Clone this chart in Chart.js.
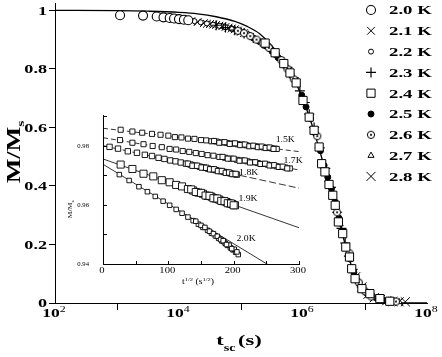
<!DOCTYPE html>
<html lang="en">
<head>
    <meta charset="UTF-8">
    <title>M/Ms relaxation</title>
    <script src="https://cdn.jsdelivr.net/npm/chart.js"></script>
    <style>
        body { margin: 0; background: #fff; }
        .wrap { position: relative; width: 442px; height: 357px; }
        #mainChart { position: absolute; left: 0; top: 0; }
        #insetChart { position: absolute; left: 60px; top: 100px; }
    </style>
</head>
<body>
<div class="wrap">
    <canvas id="mainChart" width="442" height="357"></canvas>
    <canvas id="insetChart" width="255" height="195"></canvas>
</div>
<script>
// ---- main plot data: t_sc (s) and M/Ms for each temperature ----
const temps = ['2.0 K', '2.1 K', '2.2 K', '2.3 K', '2.4 K', '2.5 K', '2.6 K', '2.7 K', '2.8 K'];

const t20 = [1.12e3, 2.63e3, 4.37e3, 5.62e3, 7.08e3, 8.32e3, 1.0e4, 1.2e4, 1.41e4];
const m20 = [0.983, 0.982, 0.979, 0.976, 0.974, 0.972, 0.970, 0.968, 0.966];

const t21 = [1.0e4, 1.26e4, 1.58e4, 2.0e4, 2.51e4, 2.82e4, 3.16e4, 3.55e4, 3.98e4, 4.47e4, 5.01e4, 5.62e4,
             6.31e4, 7.08e4, 7.94e4, 8.91e4, 1.0e5, 1.12e5];
const m21 = [0.969, 0.966, 0.963, 0.960, 0.956, 0.954, 0.953, 0.951, 0.950, 0.947, 0.946, 0.943,
             0.941, 0.938, 0.935, 0.931, 0.927, 0.922];

const t22 = [7.08e3, 8.91e3, 1.12e4, 1.41e4, 1.78e4, 2.24e4, 2.82e4, 3.55e4, 4.47e4, 5.62e4, 7.08e4, 8.91e4, 1.12e5, 1.41e5];
const m22 = [0.974, 0.972, 0.969, 0.966, 0.963, 0.959, 0.955, 0.951, 0.947, 0.942, 0.936, 0.930, 0.922, 0.913];

const t23 = [3.98e4, 5.62e4, 7.94e4, 1.12e5, 1.58e5, 2.24e5, 3.16e5, 4.17e5, 5.62e5, 7.08e5, 8.91e5, 1.07e6,
             1.26e6, 1.51e6, 1.86e6, 2.29e6, 2.82e6, 3.55e6, 4.17e6, 4.79e6, 5.5e6, 6.31e6, 7.41e6];
const m23 = [0.949, 0.941, 0.932, 0.921, 0.905, 0.887, 0.862, 0.838, 0.805, 0.77, 0.725, 0.685,
             0.645, 0.6, 0.53, 0.46, 0.395, 0.31, 0.255, 0.205, 0.16, 0.115, 0.075];

const t24 = [2.45e5, 3.55e5, 4.9e5, 6.17e5, 7.76e5, 1.0e6, 1.26e6, 1.51e6, 1.82e6, 2.0e6, 2.26e6, 2.63e6,
             3.02e6, 3.31e6, 3.72e6, 4.37e6, 4.9e6, 5.62e6, 6.1e6, 6.92e6, 8.91e6, 1.2e7, 1.74e7, 2.51e7];
const m24 = [0.888, 0.855, 0.818, 0.786, 0.752, 0.692, 0.635, 0.59, 0.533, 0.476, 0.448, 0.405,
             0.368, 0.334, 0.277, 0.237, 0.191, 0.157, 0.117, 0.083, 0.049, 0.032, 0.015, 0.006];

const t25 = [1.58e5, 2.0e5, 2.51e5, 3.16e5, 3.98e5, 5.01e5, 6.31e5, 7.94e5, 9.55e5, 1.12e6, 1.32e6, 1.58e6,
             1.91e6, 2.19e6, 2.51e6, 2.88e6, 3.31e6, 3.8e6, 4.37e6, 5.01e6, 5.75e6, 6.61e6, 7.59e6, 8.91e6,
             1.05e7, 1.26e7, 1.58e7, 2.0e7, 2.82e7];
const m25 = [0.905, 0.893, 0.878, 0.86, 0.838, 0.812, 0.79, 0.75, 0.71, 0.67, 0.63, 0.58,
             0.52, 0.47, 0.43, 0.39, 0.345, 0.29, 0.245, 0.195, 0.15, 0.105, 0.075, 0.05,
             0.035, 0.025, 0.015, 0.008, 0.005];

const t26 = [8.91e4, 1.12e5, 1.41e5, 1.78e5, 2.24e5, 2.82e5, 3.55e5, 4.47e5, 5.62e5, 7.08e5, 1.7e6, 3.55e6,
             5.62e6, 7.94e6, 1.0e7, 1.26e7, 1.78e7, 2.51e7, 3.16e7];
const m26 = [0.93, 0.922, 0.912, 0.9, 0.888, 0.872, 0.852, 0.83, 0.80, 0.765, 0.57, 0.31,
             0.17, 0.07, 0.04, 0.022, 0.012, 0.006, 0.005];

const t27 = [5.01e4, 5.62e4, 7.08e4, 7.94e4, 1.0e5, 1.12e5, 1.32e5, 1.58e5, 2.51e6, 3.98e6, 6.31e6, 8.32e6,
             1.12e7, 1.41e7, 2.0e7, 2.82e7, 3.55e7];
const m27 = [0.946, 0.942, 0.938, 0.933, 0.928, 0.923, 0.918, 0.906, 0.42, 0.27, 0.11, 0.06,
             0.03, 0.02, 0.01, 0.006, 0.004];

const t28 = [7.08e6, 8.91e6, 1.12e7, 1.41e7, 1.78e7, 2.24e7, 2.82e7, 3.55e7, 4.47e7];
const m28 = [0.09, 0.055, 0.03, 0.018, 0.012, 0.008, 0.005, 0.004, 0.004];

// fitted master curve
const fitT = [1e2, 1e3, 3.16e3, 1e4, 2e4, 3.98e4, 7.94e4, 1.26e5, 2e5, 3.16e5, 5.01e5, 7.94e5, 1e6, 1.26e6,
              1.58e6, 2e6, 2.51e6, 3.16e6, 3.98e6, 5.01e6, 6.31e6, 7.94e6, 1e7, 1.26e7, 1.58e7, 2.51e7, 3.98e7, 1e8];
const fitM = [1.0, 0.999, 0.997, 0.993, 0.988, 0.978, 0.962, 0.945, 0.92, 0.878, 0.82, 0.745, 0.695, 0.637,
              0.572, 0.497, 0.42, 0.345, 0.265, 0.185, 0.115, 0.065, 0.033, 0.016, 0.008, 0.002, 0.0, 0.0];

const xMinorTicks = [1e3, 1e5, 1e7];
const xMajorTicks = [1e2, 1e4, 1e6, 1e8];
const xMajorExp = ['2', '4', '6', '8'];
const yTicks = [0, 0.2, 0.4, 0.6, 0.8, 1];
const yTickLabels = ['0', '0.2', '0.4', '0.6', '0.8', '1'];

// ---- inset data: t^1/2 (s^1/2) vs M/Ms ----
const insetTemps = ['1.5K', '1.7K', '1.8K', '1.9K', '2.0K'];

const s15 = [27, 45, 60, 75, 88, 100, 110, 120, 130, 140, 150, 158, 166, 174, 182, 190, 198, 206, 213, 220, 227, 234, 240, 246, 252, 258, 263, 266,
             170, 178, 186, 194, 202, 210, 217, 224, 230, 237, 243, 249, 255, 261];
const v15 = [0.9855, 0.9849, 0.9845, 0.9841, 0.9838, 0.9835, 0.9830, 0.9829, 0.9825, 0.9824, 0.9820, 0.9819, 0.9816, 0.9815,
             0.9812, 0.9810, 0.9808, 0.9806, 0.9805, 0.9802, 0.9800, 0.9799, 0.9797, 0.9795, 0.9794, 0.9792, 0.9791, 0.9790,
             0.9817, 0.9811, 0.9813, 0.9807, 0.9809, 0.9803, 0.9805, 0.9799, 0.9801, 0.9796, 0.9798, 0.9793, 0.9795, 0.9790];

const s17 = [26, 45, 62, 76, 90, 102, 112, 122, 132, 142, 151, 160, 169, 178, 187, 196, 205, 213, 221, 229, 237, 245, 252, 259, 266, 272, 279, 286,
             183, 191, 200, 209, 217, 225, 233, 241, 248, 255, 262, 269, 275, 282];
const v17 = [0.9820, 0.9811, 0.9806, 0.9800, 0.9796, 0.9790, 0.9788, 0.9783, 0.9780, 0.9776, 0.9773, 0.9769, 0.9767, 0.9763,
             0.9760, 0.9757, 0.9753, 0.9751, 0.9748, 0.9745, 0.9742, 0.9739, 0.9737, 0.9734, 0.9731, 0.9729, 0.9727, 0.9724,
             0.9763, 0.9757, 0.9757, 0.9750, 0.9751, 0.9744, 0.9745, 0.9739, 0.9740, 0.9734, 0.9735, 0.9729, 0.9730, 0.9724];

const s18 = [10, 23, 38, 52, 64, 75, 85, 94, 103, 111, 119, 127, 134, 141, 148, 155, 161, 167, 173, 179, 185, 190, 195, 200, 205,
             130, 137, 144, 151, 158, 164, 170, 176, 182, 188, 193, 198, 203];
const v18 = [0.9797, 0.9791, 0.9782, 0.9777, 0.9770, 0.9766, 0.9760, 0.9756, 0.9751, 0.9748, 0.9744, 0.9740, 0.9737,
             0.9733, 0.9730, 0.9727, 0.9723, 0.9721, 0.9718, 0.9715, 0.9712, 0.9710, 0.9707, 0.9705, 0.9703,
             0.9740, 0.9733, 0.9733, 0.9727, 0.9726, 0.9721, 0.9721, 0.9715, 0.9715, 0.9709, 0.9710, 0.9705, 0.9705];

const s19 = [27, 45, 62, 77, 90, 102, 112, 121, 130, 138, 146, 153, 160, 166, 172, 178, 184, 189, 194, 198, 202,
             135, 142, 150, 157, 163, 169, 175, 181, 186, 191, 196, 200];
const v19 = [0.9737, 0.9722, 0.9706, 0.9697, 0.9684, 0.9677, 0.9668, 0.9663, 0.9654, 0.9649, 0.9642, 0.9638, 0.9631,
             0.9628, 0.9622, 0.9618, 0.9613, 0.9610, 0.9605, 0.9603, 0.9599,
             0.9653, 0.9644, 0.9641, 0.9632, 0.9631, 0.9623, 0.9622, 0.9614, 0.9613, 0.9606, 0.9605, 0.9599];

const s20 = [25, 40, 55, 68, 80, 92, 102, 112, 121, 130, 138, 146, 153, 160, 166, 172, 177, 182, 187, 191, 195, 199, 203, 207,
             185, 193, 201, 205, 142, 150, 156, 163, 169, 175, 180, 184, 189, 197];
const v20 = [0.9703, 0.9683, 0.9662, 0.9645, 0.9629, 0.9613, 0.9599, 0.9585, 0.9572, 0.9559, 0.9547, 0.9535, 0.9524, 0.9514,
             0.9504, 0.9495, 0.9487, 0.9478, 0.9470, 0.9463, 0.9455, 0.9448, 0.9440, 0.9432,
             0.9476, 0.9464, 0.9450, 0.9441, 0.9545, 0.9531, 0.9524, 0.9511, 0.9503, 0.9494, 0.9483, 0.9479, 0.9466, 0.9452];

// linear fits (value at t^1/2 = 0 and 300)
const insetFitX = [0, 300];
const fit15 = [0.9860, 0.9781];
const fit17 = [0.9828, 0.9719];
const fit18 = [0.9801, 0.9657];
const fit19 = [0.9756, 0.9523];
const fit20 = [0.9738, 0.9334];

const insetXTicks = [0, 50, 100, 150, 200, 250, 300];
const insetXLabels = [0, 100, 200, 300];
const insetYTicks = [0.94, 0.95, 0.96, 0.97, 0.98, 0.99];
const insetYLabels = [0.94, 0.96, 0.98];

// ---- helpers ----
const SERIF = '"Liberation Serif", "DejaVu Serif", serif';
function font(size, bold) { return (bold ? 'bold ' : '') + size + 'px ' + SERIF; }

function pts(xs, ys) { return xs.map((x, i) => ({ x: x, y: ys[i] })); }

// draws a run of text pieces, stretched horizontally by sx (the figure uses a wide face)
function rich(ctx, parts, x, y, opt) {
    opt = opt || {};
    ctx.save();
    ctx.translate(x, y);
    if (opt.rot) ctx.rotate(opt.rot);
    ctx.scale(opt.sx || 1, 1);
    ctx.fillStyle = '#000';
    ctx.textBaseline = 'alphabetic';
    ctx.textAlign = 'left';
    let w = 0;
    parts.forEach(p => { ctx.font = p.f; p.w = ctx.measureText(p.t).width; w += p.w + (p.kern || 0); });
    let cx = opt.align === 'center' ? -w / 2 : opt.align === 'right' ? -w : 0;
    parts.forEach(p => { ctx.font = p.f; ctx.fillText(p.t, cx, p.dy || 0); cx += p.w + (p.kern || 0); });
    ctx.restore();
}

// open circle with a dot in the middle (2.6 K)
const dotCircle = document.createElement('canvas');
dotCircle.width = 10; dotCircle.height = 10;
(function () {
    const c = dotCircle.getContext('2d');
    c.fillStyle = '#fff'; c.strokeStyle = '#000'; c.lineWidth = 1;
    c.beginPath(); c.arc(5, 5, 3.6, 0, Math.PI * 2); c.fill(); c.stroke();
    c.fillStyle = '#000';
    c.beginPath(); c.arc(5, 5, 1.1, 0, Math.PI * 2); c.fill();
})();

const mainStyles = [
    { ps: 'circle',   r: 4.5, bg: '#fff', bw: 1.1, order: 1 },
    { ps: 'crossRot', r: 5.5, bg: '#fff', bw: 1,   order: 5 },
    { ps: 'circle',   r: 2.5, bg: '#fff', bw: 1,   order: 4 },
    { ps: 'cross',    r: 5,   bg: '#fff', bw: 1.2, order: 3 },
    { ps: 'rect',     r: 5.8, bg: '#fff', bw: 1,   order: 0 },
    { ps: 'circle',   r: 3,   bg: '#000', bw: 1,   order: 6 },
    { ps: dotCircle,  r: 4,   bg: '#fff', bw: 1,   order: 2 },
    { ps: 'triangle', r: 3.5, bg: '#fff', bw: 1,   order: 7 },
    { ps: 'crossRot', r: 6.4, bg: '#fff', bw: 1,   order: 8 }
];
const mainSeries = [[t20, m20], [t21, m21], [t22, m22], [t23, m23], [t24, m24], [t25, m25], [t26, m26], [t27, m27], [t28, m28]];

const mainDatasets = mainSeries.map((s, i) => ({
    label: temps[i],
    data: pts(s[0], s[1]),
    pointStyle: mainStyles[i].ps,
    pointRadius: mainStyles[i].r,
    pointBackgroundColor: mainStyles[i].bg,
    pointBorderColor: '#000',
    pointBorderWidth: mainStyles[i].bw,
    showLine: false,
    clip: false,
    order: mainStyles[i].order
}));
mainDatasets.push({
    label: 'fit',
    data: pts(fitT, fitM),
    showLine: true,
    borderColor: '#000',
    borderWidth: 1.3,
    pointRadius: 0,
    cubicInterpolationMode: 'monotone',
    clip: false,
    order: 9
});

const mainText = {
    id: 'mainText',
    afterDraw(chart) {
        const ctx = chart.ctx;
        const xs = chart.scales.x, ys = chart.scales.y;
        yTicks.forEach((v, i) => {
            rich(ctx, [{ t: yTickLabels[i], f: font(12.5, true) }], 47, ys.getPixelForValue(v) + 4.3, { align: 'right', sx: 1.45 });
        });
        xMajorTicks.forEach((v, i) => {
            rich(ctx, [{ t: '10', f: font(12.5, true) }, { t: xMajorExp[i], f: font(8.5, false), dy: -5 }],
                xs.getPixelForValue(v) - 1, 317, { align: 'center', sx: 1.4 });
        });
        const ca = chart.chartArea;
        rich(ctx, [{ t: 't', f: font(15, true) }, { t: 'sc', f: font(9.5, true), dy: 6, kern: -2 }, { t: ' (s)', f: font(15, true) }],
            (ca.left + ca.right) / 2 - 2, 345, { align: 'center', sx: 1.5 });
        rich(ctx, [{ t: 'M/M', f: font(18, true) }, { t: 's', f: font(11, true), dy: 4 }],
            20, 152, { align: 'center', rot: -Math.PI / 2, sx: 1.45 });

        // legend, top right inside the axes
        chart.data.datasets.slice(0, temps.length).forEach((ds, i) => {
            const y = 10 + i * 20.8;
            ctx.save();
            ctx.fillStyle = ds.pointBackgroundColor;
            ctx.strokeStyle = '#000';
            ctx.lineWidth = ds.pointBorderWidth;
            Chart.helpers.drawPoint(ctx, { pointStyle: ds.pointStyle, radius: ds.pointRadius, rotation: 0, borderWidth: ds.pointBorderWidth }, 371, y);
            ctx.restore();
            rich(ctx, [{ t: temps[i], f: font(12.5, true) }], 389, y + 4.3, { sx: 1.5 });
        });
    }
};

new Chart(document.getElementById('mainChart'), {
    type: 'scatter',
    data: { datasets: mainDatasets },
    options: {
        responsive: false,
        animation: false,
        layout: { autoPadding: false, padding: { left: 0, right: 15, top: 3, bottom: 0 } },
        plugins: { legend: { display: false }, tooltip: { enabled: false } },
        scales: {
            x: {
                type: 'logarithmic', min: 1e2, max: 1e8,
                afterBuildTicks: s => { s.ticks = xMinorTicks.map(v => ({ value: v })); },
                afterFit: s => { s.height = 54; },
                ticks: { display: false },
                grid: { drawOnChartArea: false, drawTicks: true, tickLength: 7, color: '#000', lineWidth: 1 },
                border: { display: true, color: '#000', width: 1 }
            },
            y: {
                min: 0, max: 1.025,
                afterBuildTicks: s => { s.ticks = yTicks.map(v => ({ value: v })); },
                afterFit: s => { s.width = 55; },
                ticks: { display: false },
                grid: { drawOnChartArea: false, drawTicks: true, tickLength: 6, color: '#000', lineWidth: 1 },
                border: { display: true, color: '#000', width: 1 }
            }
        }
    },
    plugins: [mainText]
});

// ---- inset ----
const insetSeries = [[s15, v15], [s17, v17], [s18, v18], [s19, v19], [s20, v20]];
const insetFits = [fit15, fit17, fit18, fit19, fit20];
const insetRadius = [3.6, 3.6, 3.8, 5, 3.2];
const insetDash = [[5, 3], [5, 3], [7, 3], [], []];

const insetDatasets = [];
insetFits.forEach((f, i) => {
    insetDatasets.push({
        data: pts(insetFitX, f), showLine: true, borderColor: '#000', borderWidth: 0.8,
        borderDash: insetDash[i], pointRadius: 0, order: 5
    });
});
insetSeries.forEach((s, i) => {
    insetDatasets.push({
        data: pts(s[0], s[1]), showLine: false, pointStyle: 'rect', pointRadius: insetRadius[i],
        pointBackgroundColor: '#fff', pointBorderColor: '#000', pointBorderWidth: 0.9, order: 1
    });
});

// label anchor points in data units
const insetLabelAt = [[279, 0.9824], [291, 0.9753], [223, 0.9712], [222, 0.9624], [219, 0.9488]];

const insetText = {
    id: 'insetText',
    afterDraw(chart) {
        const ctx = chart.ctx;
        const xs = chart.scales.x, ys = chart.scales.y;
        const ca = chart.chartArea;
        ctx.save();
        ctx.strokeStyle = '#000';
        ctx.lineWidth = 1;
        ctx.beginPath();
        insetXTicks.forEach(v => {
            const px = Math.round(xs.getPixelForValue(v)) + 0.5;
            ctx.moveTo(px, ca.bottom); ctx.lineTo(px, ca.bottom - 3);
        });
        insetYTicks.forEach(v => {
            const py = Math.round(ys.getPixelForValue(v)) + 0.5;
            ctx.moveTo(ca.left, py); ctx.lineTo(ca.left + 4, py);
        });
        ctx.stroke();
        ctx.restore();

        insetXLabels.forEach(v => {
            rich(ctx, [{ t: String(v), f: font(8.5, false) }], xs.getPixelForValue(v) - 1, ca.bottom + 9, { align: 'center', sx: 1.25 });
        });
        insetYLabels.forEach(v => {
            rich(ctx, [{ t: v.toFixed(2), f: font(7, false) }], ca.left - 14, ys.getPixelForValue(v) + 2.4, { align: 'right', sx: 0.95 });
        });
        rich(ctx, [{ t: 't', f: font(7.5, false) }, { t: '1/2', f: font(5, false), dy: -3 }, { t: ' (s', f: font(7.5, false) },
                   { t: '1/2', f: font(5, false), dy: -3 }, { t: ')', f: font(7.5, false) }],
            (ca.left + ca.right) / 2 - 3, ca.bottom + 20, { align: 'center', sx: 1.3 });
        rich(ctx, [{ t: 'M/M', f: font(6.5, false) }, { t: 's', f: font(4.5, false), dy: 2 }],
            ca.left - 31, ys.getPixelForValue(0.9585), { align: 'center', rot: -Math.PI / 2, sx: 1.2 });
        insetLabelAt.forEach((p, i) => {
            rich(ctx, [{ t: insetTemps[i], f: font(8.5, false) }], xs.getPixelForValue(p[0]), ys.getPixelForValue(p[1]) + 3,
                { align: 'center', sx: 1.15 });
        });
    }
};

new Chart(document.getElementById('insetChart'), {
    type: 'scatter',
    data: { datasets: insetDatasets },
    options: {
        responsive: false,
        animation: false,
        layout: { autoPadding: false, padding: { left: 0, right: 16, top: 15, bottom: 0 } },
        plugins: { legend: { display: false }, tooltip: { enabled: false } },
        scales: {
            x: {
                min: 0, max: 300,
                afterFit: s => { s.height = 31; },
                ticks: { display: false },
                grid: { display: false },
                border: { display: true, color: '#000', width: 1 }
            },
            y: {
                min: 0.94, max: 0.9905,
                afterFit: s => { s.width = 43; },
                ticks: { display: false },
                grid: { display: false },
                border: { display: true, color: '#000', width: 1 }
            }
        }
    },
    plugins: [insetText]
});
</script>
</body>
</html>
